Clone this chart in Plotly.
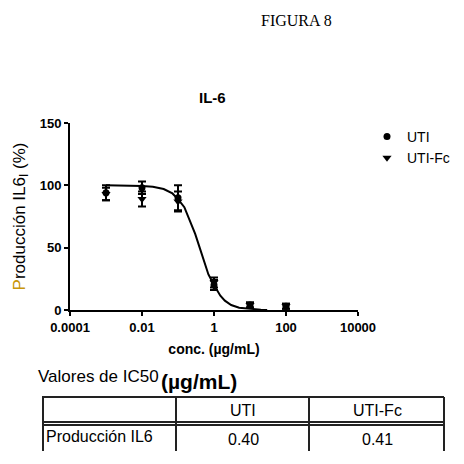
import plotly.graph_objects as go

# concentraciones (µg/mL) y producción de IL-6 (%)
conc = [0.001, 0.01, 0.1, 1, 10, 100]
uti = [94, 98, 90, 20, 4, 3]
uti_err = [6, 5, 10, 4, 2, 2]
uti_fc = [93, 89, 87, 22, 4, 3]
uti_fc_err = [5, 6, 8, 4, 2, 2]

# curva ajustada
curve_x = [0.001, 0.003, 0.01, 0.02, 0.04, 0.07, 0.1, 0.15, 0.2, 0.3, 0.4,
           0.5, 0.7, 1, 1.5, 2, 3, 5, 10, 20, 30]
curve_y = [100, 99.9, 99.5, 98.9, 97, 93.5, 89, 82.5, 74, 61, 50,
           42, 28.5, 20, 11.5, 7.5, 4, 1.8, 0.8, 0.3, 0.1]

x_ticks = [0.0001, 0.01, 1, 100, 10000]
x_tick_labels = ["0.0001", "0.01", "1", "100", "10000"]

# tabla IC50
table_header = ["", "UTI", "UTI-Fc"]
table_row = ["Producción IL6", "0.40", "0.41"]

# la página deja 8 px de margen; todo se coloca en píxeles del original
OFF = 8
W = H = 464 - OFF
L, R, T, B = 70 - OFF, 358 - OFF, 123 - OFF, 310 - OFF


def px(x):
    return (x - OFF - L) / (R - L)


def py(y):
    return (B - (y - OFF)) / (B - T)


fig = go.Figure()

fig.add_trace(go.Scatter(
    x=curve_x, y=curve_y, mode="lines",
    line=dict(color="black", width=2), showlegend=False, hoverinfo="skip"))

fig.add_trace(go.Scatter(
    x=conc, y=uti, mode="markers", name="UTI",
    marker=dict(symbol="circle", size=7, color="black"),
    error_y=dict(type="data", array=uti_err, color="black", thickness=2, width=4)))

fig.add_trace(go.Scatter(
    x=conc, y=uti_fc, mode="markers", name="UTI-Fc",
    marker=dict(symbol="triangle-down", size=8, color="black"),
    error_y=dict(type="data", array=uti_fc_err, color="black", thickness=2, width=4)))

fig.update_xaxes(
    type="log", range=[-4, 4], tickvals=x_ticks, ticktext=x_tick_labels,
    automargin=False,
    showgrid=False, zeroline=False, showline=True, linecolor="black", linewidth=2,
    ticks="outside", ticklen=4, tickwidth=2, tickcolor="black",
    tickfont=dict(family="Liberation Sans", size=13, color="black", weight="bold"),
    title=dict(text="conc. (µg/mL)", standoff=11,
               font=dict(family="Liberation Sans", size=14, color="black", weight="bold")))

fig.update_yaxes(
    range=[0, 150], tickvals=[0, 50, 100, 150],
    automargin=False,
    showgrid=False, zeroline=False, showline=True, linecolor="black", linewidth=2,
    ticks="outside", ticklen=4, tickwidth=2, tickcolor="black",
    tickfont=dict(family="Liberation Sans", size=13, color="black", weight="bold"),
    title=dict(text="<span style='color:#c8960a'>P</span>roducción IL6<sub>I</sub> (%)",
               standoff=10,
               font=dict(family="Liberation Sans", size=17, color="black")))

font_table = dict(family="Liberation Sans", size=16, color="black")
annotations = [
    dict(x=px(296), y=py(20), text="FIGURA 8",
         font=dict(family="Liberation Serif", size=16, color="black")),
    dict(x=px(212), y=py(97), text="<b>IL-6</b>",
         font=dict(family="Liberation Sans", size=15, color="black")),
    dict(x=px(36), y=py(376), text="Valores de IC50", xanchor="left",
         font=dict(family="Liberation Sans", size=17, color="black")),
    dict(x=px(159), y=py(381), text="<b>(µg/mL)</b>", xanchor="left",
         font=dict(family="Liberation Sans", size=21, color="black")),
    dict(x=px(243), y=py(410), text=table_header[1], font=font_table),
    dict(x=px(377), y=py(410), text=table_header[2], font=font_table),
    dict(x=px(44), y=py(436), text=table_row[0], xanchor="left", font=font_table),
    dict(x=px(243), y=py(439), text=table_row[1], font=font_table),
    dict(x=px(377), y=py(439), text=table_row[2], font=font_table),
]
for a in annotations:
    a.setdefault("xanchor", "center")
    a.update(xref="paper", yref="paper", yanchor="middle", showarrow=False)

line_style = dict(color="#222222", width=2)
shapes = [
    dict(type="line", x0=px(42), x1=px(444), y0=py(397), y1=py(397), line=line_style),
    dict(type="line", x0=px(42), x1=px(444), y0=py(422), y1=py(422), line=line_style),
    dict(type="line", x0=px(42), x1=px(444), y0=py(425), y1=py(425), line=line_style),
]
for xv in [43, 176, 309, 444]:
    shapes.append(dict(type="line", x0=px(xv), x1=px(xv),
                       y0=py(397), y1=py(451), line=line_style))
for s in shapes:
    s.update(xref="paper", yref="paper")

fig.update_layout(
    width=W, height=H,
    margin=dict(l=L, r=W - R, t=T, b=H - B, autoexpand=False),
    paper_bgcolor="white", plot_bgcolor="white",
    showlegend=True,
    legend=dict(x=px(367), y=py(121), xanchor="left", yanchor="top",
                font=dict(family="Liberation Sans", size=14, color="black"),
                bgcolor="rgba(0,0,0,0)", itemwidth=30, tracegroupgap=8),
    annotations=annotations, shapes=shapes,
)

fig.write_html("out.html")
